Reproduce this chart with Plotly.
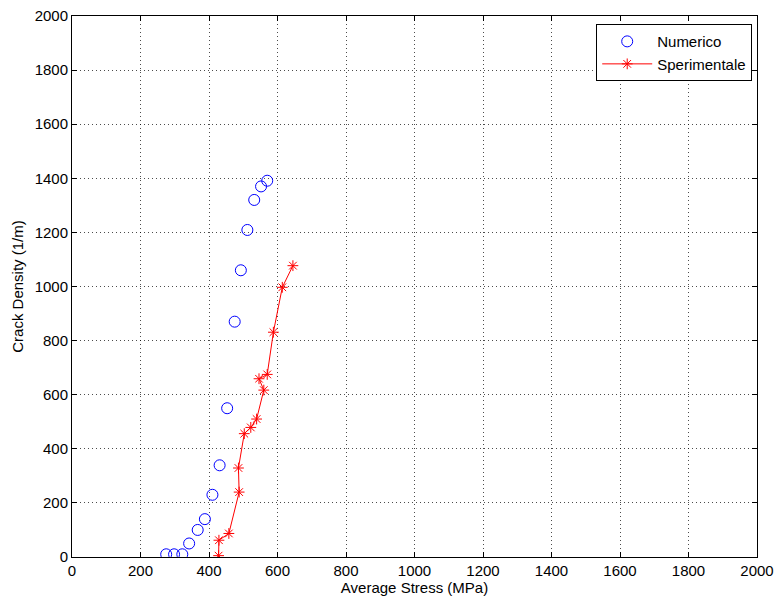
import plotly.graph_objects as go

# Numerico (blue open circles)
num_x = [275, 298, 322, 342, 367, 388, 410, 431, 453, 475, 493, 512, 532, 552, 570]
num_y = [10, 10, 10, 50, 100, 140, 230, 339, 550, 870, 1060, 1209, 1320, 1370, 1391]

# Sperimentale (red line with asterisks)
sper_x = [428, 429, 458, 488, 486, 503, 522, 539, 560, 546, 570, 588, 614, 645]
sper_y = [5, 62, 87, 240, 329, 456, 479, 510, 617, 659, 675, 831, 997, 1077]

x_ticks = list(range(0, 2001, 200))
y_ticks = list(range(0, 2001, 200))

FONT = "Liberation Sans, Arial, sans-serif"
FS = 15

fig = go.Figure()
fig.add_trace(go.Scatter(
    x=num_x, y=num_y, mode="markers", name="Numerico",
    marker=dict(symbol="circle-open", size=11, color="#0000ff", line=dict(width=1))
))
fig.add_trace(go.Scatter(
    x=sper_x, y=sper_y, mode="lines+markers", name="Sperimentale",
    line=dict(color="#ff0000", width=1),
    marker=dict(symbol="asterisk-open", size=9, color="#ff0000", line=dict(width=1, color="#ff0000"))
))

axis_common = dict(
    showline=True, linecolor="black", linewidth=1, mirror="ticks",
    ticks="inside", ticklen=5, tickcolor="black",
    showgrid=True, gridcolor="rgba(0,0,0,0.7)", griddash="1px,3px", gridwidth=1,
    zeroline=False, automargin=False, ticklabeloverflow="allow",
    tickfont=dict(family=FONT, size=FS, color="black"),
)

fig.update_xaxes(range=[0, 2000], tickvals=x_ticks, ticktext=[str(v) for v in x_ticks],
                 title=dict(text="Average Stress (MPa)", standoff=4,
                            font=dict(family=FONT, size=FS, color="black")),
                 **axis_common)
fig.update_yaxes(range=[0, 2000], tickvals=y_ticks, ticktext=[str(v) for v in y_ticks],
                 title=dict(text="Crack Density (1/m)", standoff=7,
                            font=dict(family=FONT, size=FS, color="black")),
                 **axis_common)

fig.update_layout(
    width=776, height=599,
    margin=dict(l=72, r=19, t=16, b=42),
    paper_bgcolor="white", plot_bgcolor="white",
    showlegend=True,
    legend=dict(x=0.993, y=0.985, xanchor="right", yanchor="top",
                bgcolor="white", bordercolor="black", borderwidth=1,
                font=dict(family=FONT, size=FS, color="black"),
                tracegroupgap=0, itemwidth=50),
)

fig.write_html(
    "out.html",
    config={"displayModeBar": False},
    post_script="document.body.style.margin='0';document.body.style.overflow='hidden';",
)
